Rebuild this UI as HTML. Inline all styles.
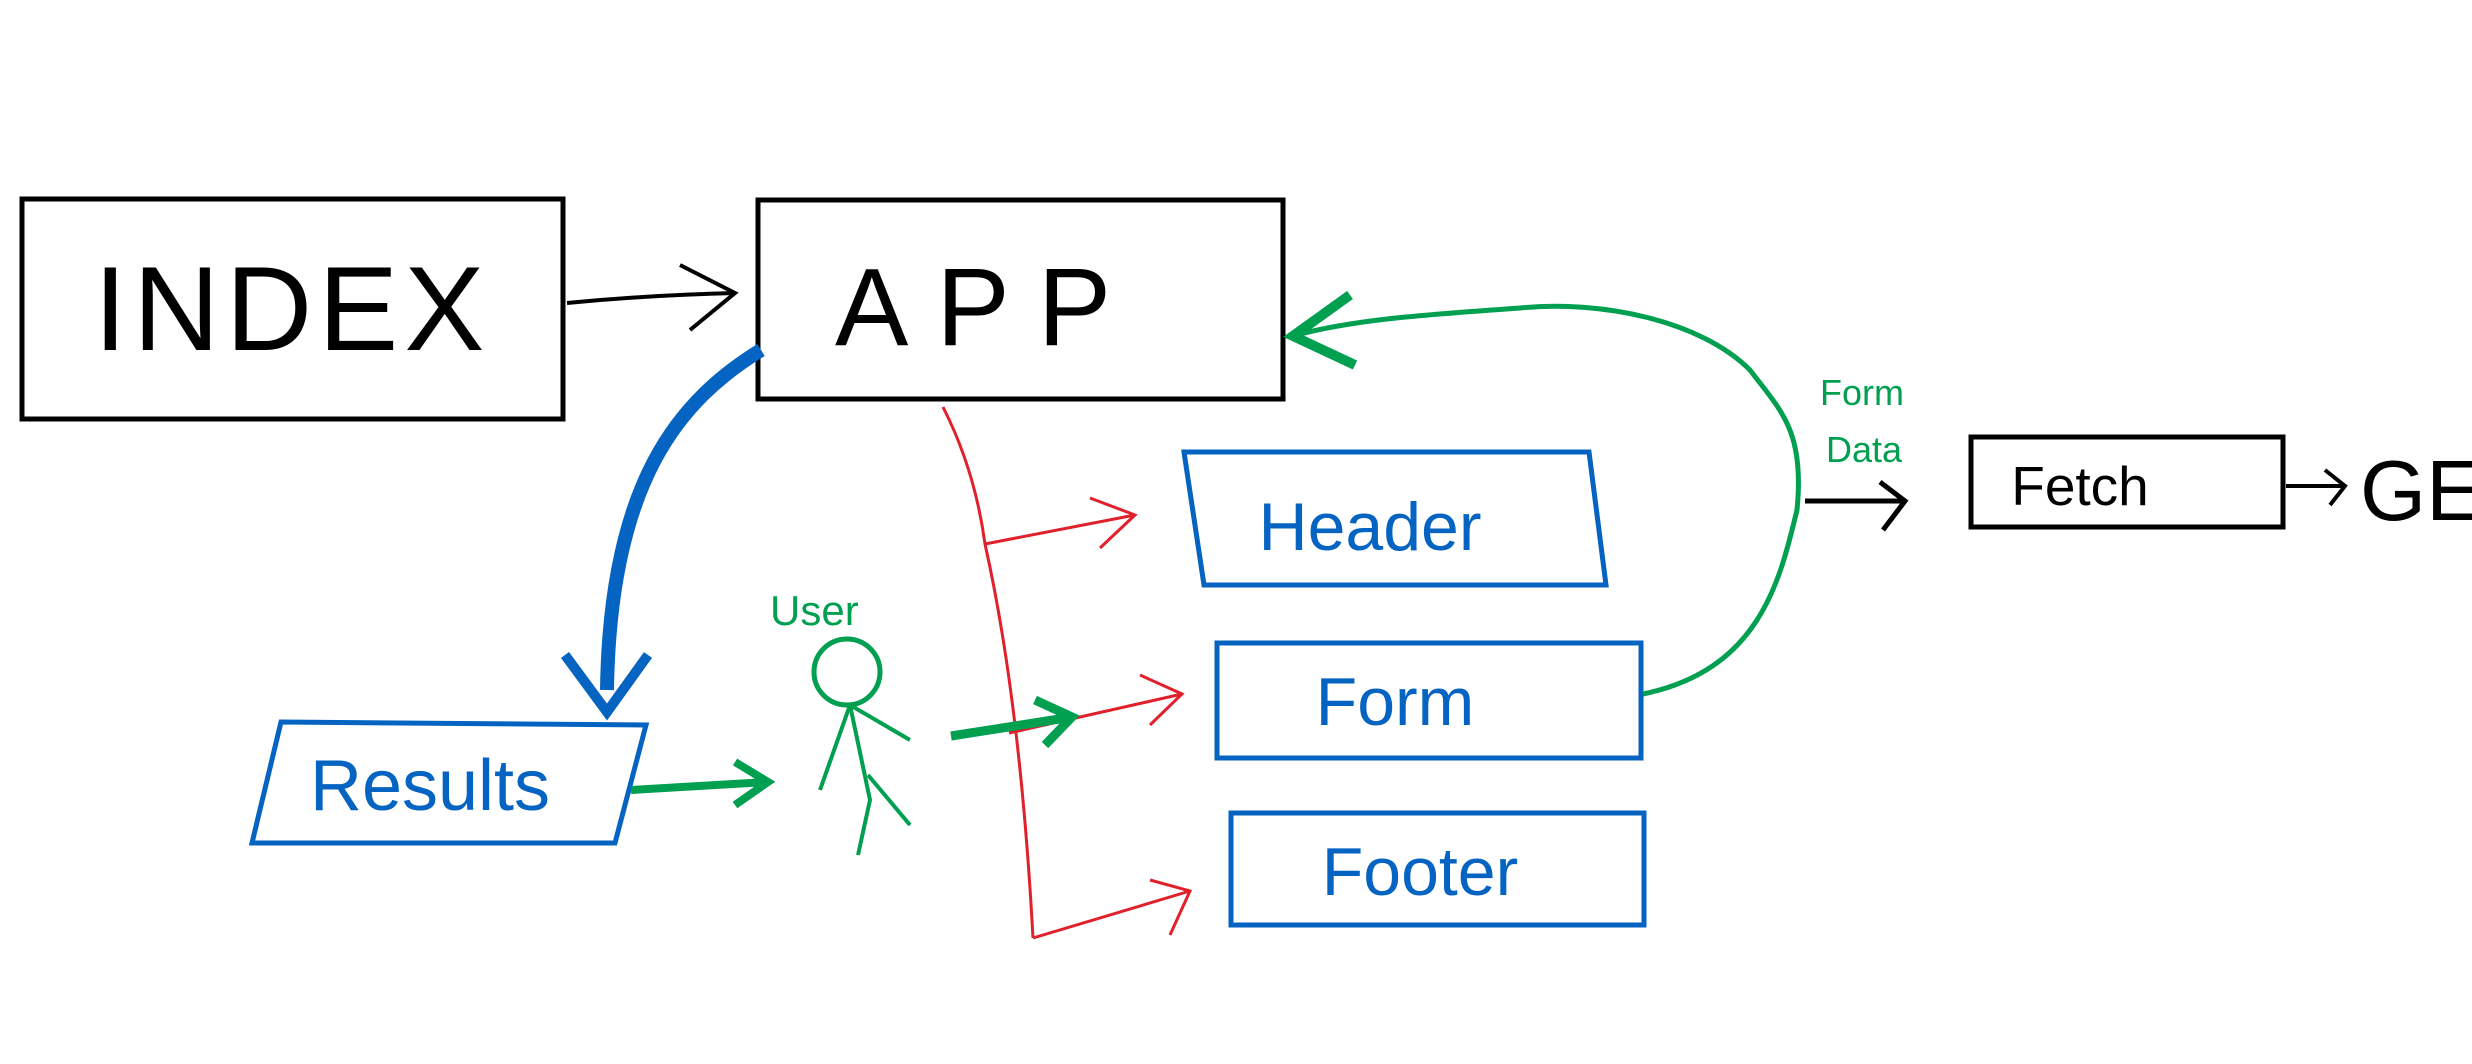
<!DOCTYPE html>
<html><head><style>
html,body{margin:0;padding:0;background:#fff;}
svg{display:block;}
text{font-family:"Liberation Sans",sans-serif;}
</style></head><body>
<svg width="2472" height="1064" viewBox="0 0 2472 1064" xmlns="http://www.w3.org/2000/svg">
<!-- INDEX -->
<rect x="22" y="199" width="541" height="220" fill="none" stroke="#000" stroke-width="5"/>
<text x="292" y="350" font-size="120" text-anchor="middle" fill="#000" letter-spacing="6">INDEX</text>
<!-- APP -->
<rect x="758" y="200" width="525" height="199" fill="none" stroke="#000" stroke-width="5"/>
<text x="835" y="345" font-size="110" fill="#000" letter-spacing="28">APP</text>
<!-- INDEX->APP -->
<path d="M567 303 Q650 295 735 293" fill="none" stroke="#000" stroke-width="4"/>
<path d="M680 265 L735 293 L690 330" fill="none" stroke="#000" stroke-width="4"/>
<!-- Header -->
<polygon points="1184,452 1589,452 1606,585 1204,585" fill="none" stroke="#0563C1" stroke-width="5"/>
<text x="1370" y="550" font-size="68" text-anchor="middle" fill="#0563C1">Header</text>
<!-- Form -->
<rect x="1217" y="643" width="424" height="115" fill="none" stroke="#0563C1" stroke-width="5"/>
<text x="1395" y="725" font-size="68" text-anchor="middle" fill="#0563C1">Form</text>
<!-- Footer -->
<rect x="1231" y="813" width="413" height="112" fill="none" stroke="#0563C1" stroke-width="5"/>
<text x="1420" y="895" font-size="68" text-anchor="middle" fill="#0563C1">Footer</text>
<!-- Fetch -->
<rect x="1971" y="437" width="312" height="90" fill="none" stroke="#000" stroke-width="5"/>
<text x="2080" y="505" font-size="55" text-anchor="middle" fill="#000">Fetch</text>
<path d="M2286 486 L2345 486 M2325 470 L2345 486 L2330 505" fill="none" stroke="#000" stroke-width="4"/>
<text x="2360" y="520" font-size="85" fill="#000">GET</text>
<!-- Results -->
<polygon points="281,722 646,725 615,843 252,843" fill="none" stroke="#0563C1" stroke-width="5"/>
<text x="430" y="810" font-size="72" text-anchor="middle" fill="#0563C1">Results</text>
<!-- blue thick arrow -->
<path d="M761 350 C680 400 610 480 607 690" fill="none" stroke="#0563C1" stroke-width="14"/>
<path d="M565 655 L607 712 L648 655" fill="none" stroke="#0563C1" stroke-width="10"/>
<!-- red tree -->
<path d="M943 407 Q975 470 985 544 Q1020 700 1033 938" fill="none" stroke="#E0202A" stroke-width="3"/>
<path d="M985 544 L1135 515 M1090 498 L1135 515 L1100 548" fill="none" stroke="#E0202A" stroke-width="3"/>
<path d="M1009 733 L1182 694 M1140 675 L1182 694 L1150 725" fill="none" stroke="#E0202A" stroke-width="3"/>
<path d="M1033 938 L1190 891 M1150 880 L1190 891 L1170 935" fill="none" stroke="#E0202A" stroke-width="3"/>
<!-- user figure -->
<text x="770" y="625" font-size="42" fill="#00A050">User</text>
<circle cx="847" cy="672" r="33" fill="none" stroke="#00A050" stroke-width="5"/>
<path d="M850 705 L870 800 L858 855 M850 705 L910 740 M850 705 L820 790 M868 775 L910 825" fill="none" stroke="#00A050" stroke-width="4"/>
<!-- Results->user -->
<path d="M631 790 L768 782 M735 762 L768 782 L735 805" fill="none" stroke="#00A050" stroke-width="8"/>
<!-- user->form -->
<path d="M951 736 L1072 717 M1035 700 L1072 717 L1045 745" fill="none" stroke="#00A050" stroke-width="9"/>
<!-- green curve back to APP -->
<path d="M1643 694 C1760 670 1780 580 1797 510 C1805 430 1780 410 1750 370 C1700 320 1600 300 1520 308 C1420 315 1350 320 1293 336" fill="none" stroke="#00A050" stroke-width="5"/>
<path d="M1350 295 L1293 336 L1355 365" fill="none" stroke="#00A050" stroke-width="10"/>
<text x="1820" y="405" font-size="36" fill="#00A050">Form</text>
<text x="1826" y="462" font-size="36" fill="#00A050">Data</text>
<!-- to Fetch -->
<path d="M1805 501 L1905 501 M1880 482 L1905 501 L1883 530" fill="none" stroke="#000" stroke-width="5"/>
</svg>
</body></html>
